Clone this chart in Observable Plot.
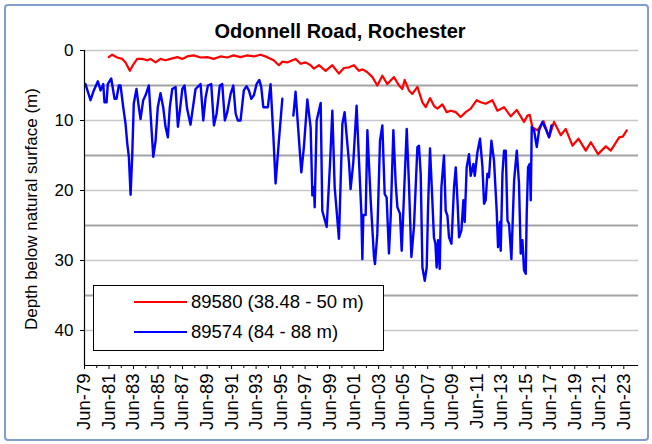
<!DOCTYPE html>
<html><head><meta charset="utf-8">
<script src="https://cdn.jsdelivr.net/npm/d3@7"></script>
<script src="https://cdn.jsdelivr.net/npm/@observablehq/plot@0.6"></script>
<style>
body{margin:0;background:#fff;font-family:Arial,"Liberation Sans",sans-serif;}
#wrap{position:relative;width:652px;height:444px;overflow:hidden;background:#fff;}
#border{position:absolute;left:4px;top:4px;width:641px;height:433px;border:2px solid #7f9fcf;border-radius:4px;pointer-events:none;}
#title{position:absolute;left:0;width:680px;top:19px;text-align:center;font-weight:bold;font-size:20px;line-height:24px;color:#000;}
#ylabel{position:absolute;left:-118px;width:300px;top:198px;line-height:22px;text-align:center;font-size:17px;transform:rotate(-90deg);transform-origin:50% 50%;color:#000;}
#plot{position:absolute;left:0;top:0;}
#legend{position:absolute;left:93px;top:285px;width:289px;height:64px;border:1px solid #000;background:#fff;}
.item{position:absolute;left:0;height:22px;line-height:22px;font-size:18.5px;color:#000;white-space:nowrap;}
.sw{position:absolute;left:40px;width:53px;top:10px;height:2px;}
.lt{position:absolute;left:97px;top:0;}
</style></head>
<body>
<div id="wrap">
  <div id="plot"></div>
  <div id="title">Odonnell Road, Rochester</div>
  <div id="ylabel">Depth below natural surface (m)</div>
  <div id="legend"></div>
  <div id="border"></div>
</div>
<script>
// ---- data ----
const seriesNames = ["89580 (38.48 - 50 m)", "89574 (84 - 88 m)"];
const seriesColors = ["#ff0000", "#0000ff"];

const redYear = [1981.43,1981.71,1982.12,1982.53,1982.80,1983.15,1983.47,1983.75,1984.16,1984.57,
1984.84,1985.25,1985.65,1986.06,1986.47,1987.02,1987.43,1987.83,1988.35,1988.92,
1989.47,1989.98,1990.55,1991.10,1991.61,1992.18,1992.73,1993.27,1993.82,1994.36,
1994.88,1995.31,1995.59,1996.00,1996.27,1996.67,1997.08,1997.49,1997.90,1998.17,
1998.58,1999.12,1999.67,2000.21,2000.62,2001.03,2001.43,2001.84,2002.14,2002.53,
2002.94,2003.34,2003.75,2004.16,2004.43,2004.70,2005.11,2005.38,2005.57,2005.92,
2006.20,2006.61,2007.02,2007.29,2007.64,2007.96,2008.24,2008.65,2009.00,2009.33,
2009.74,2010.14,2010.55,2010.96,2011.45,2011.78,2012.18,2012.73,2013.14,2013.68,
2014.23,2014.72,2015.31,2015.59,2015.78,2016.00,2016.41,2016.90,2017.35,2017.76,
2018.31,2018.71,2019.26,2019.75,2020.35,2020.76,2021.35,2021.98,2022.39,2023.07,
2023.37,2023.69];
const redDepth = [0.95,0.6,1.0,1.2,1.7,2.9,1.9,1.2,1.2,1.4,
1.2,1.7,1.2,1.4,1.2,0.95,1.2,0.85,0.7,1.0,
0.95,1.2,0.85,1.0,0.7,0.95,0.7,0.85,0.6,0.95,
1.4,2.1,1.6,1.7,1.5,1.2,1.9,1.7,2.1,2.6,
2.1,2.9,2.1,3.3,2.5,2.4,2.1,2.9,2.7,3.1,
3.8,5.0,3.6,4.8,4.3,3.8,5.0,5.5,4.2,5.7,
6.2,5.2,7.4,8.1,6.8,7.9,8.3,7.7,8.8,8.6,
8.8,9.5,8.8,8.3,7.1,7.4,7.6,7.1,8.6,8.1,
9.4,8.5,10.2,9.3,9.2,11.0,11.4,10.1,12.4,10.2,
12.1,11.2,13.6,12.6,14.3,13.1,14.8,13.7,14.3,12.4,
12.3,11.4];

const blueYear = [1979.53,1979.94,1980.21,1980.54,1980.76,1980.98,1981.08,1981.25,1981.35,1981.63,
1981.90,1982.06,1982.25,1982.39,1982.61,1982.80,1982.94,1983.07,1983.21,1983.34,
1983.47,1983.69,1983.88,1984.02,1984.24,1984.43,1984.70,1984.84,1985.06,1985.25,
1985.43,1985.65,1985.87,1986.06,1986.25,1986.41,1986.61,1986.88,1987.07,1987.23,
1987.43,1987.61,1987.82,1988.10,1988.51,1988.92,1989.14,1989.33,1989.52,1989.79,
1990.01,1990.23,1990.49,1990.69,1990.90,1991.10,1991.37,1991.59,1991.78,1991.96,
1992.18,1992.45,1992.67,1992.86,1993.06,1993.27,1993.49,1993.71,1993.87,1994.04,
1994.41,1994.63,1994.85,1995.04,1995.31,1995.59,1996.00,
1996.49,1996.67,1997.14,1997.35,1997.63,1997.90,1998.04,1998.17,1998.23,1998.39,
1998.72,1998.85,1999.21,1999.48,1999.67,1999.86,2000.21,2000.49,2000.67,2001.03,
2001.16,2001.38,2001.65,2001.84,2002.04,2002.12,2002.20,2002.39,2002.53,2002.80,
2003.07,2003.15,2003.34,2003.56,2003.75,2003.94,2004.10,2004.29,2004.43,2004.65,
2004.84,2004.98,2005.19,2005.33,2005.52,2005.74,2005.92,2006.12,2006.33,2006.61,
2006.74,2006.88,2007.02,2007.21,2007.37,2007.48,2007.64,2007.83,2007.96,2008.08,
2008.18,2008.29,2008.43,2008.57,2008.78,2008.92,2009.06,2009.19,2009.39,2009.60,
2009.74,2009.88,2010.01,2010.20,2010.36,2010.47,2010.63,2010.82,2010.96,2011.18,
2011.29,2011.51,2011.72,2011.92,2012.05,2012.18,2012.32,2012.45,2012.65,2012.86,
2013.08,2013.19,2013.35,2013.41,2013.55,2013.68,2013.82,2013.96,2014.09,2014.28,
2014.50,2014.72,2014.90,2015.04,2015.18,2015.31,2015.45,2015.53,2015.64,2015.78,
2015.86,2015.94,2016.13,2016.35,2016.54,2016.81,2017.08,2017.35,2017.55];
const blueDepth = [4.8,7.1,5.7,4.4,5.7,4.8,7.4,7.4,4.8,4.0,
6.9,6.9,5.0,5.0,8.1,10.5,13.3,15.2,20.6,15.2,
7.6,5.5,8.1,9.8,7.1,6.4,5.0,9.0,15.2,12.9,
8.1,6.1,8.1,10.9,12.4,8.1,5.5,5.2,10.9,8.6,
5.5,5.0,8.3,10.6,5.5,4.8,10.0,6.7,5.0,4.8,
10.7,9.0,5.0,4.8,10.0,8.8,6.2,5.0,9.0,10.0,
10.0,5.7,5.1,5.7,6.9,6.4,4.8,4.2,5.2,8.1,
8.1,4.8,11.9,19.0,12.9,6.9,null,
9.3,5.9,17.4,13.8,7.0,11.0,20.7,19.5,22.4,10.0,
7.5,22.9,25.2,16.2,8.6,19.5,26.9,10.5,8.8,16.0,
19.8,16.0,7.9,15.5,23.3,29.8,23.5,23.5,11.4,21.4,
29.5,30.5,26.2,12.9,10.7,20.5,21.0,29.0,23.8,11.4,
19.0,22.4,23.3,28.6,20.5,11.2,19.0,29.5,25.2,13.8,
13.6,17.6,31.0,32.9,31.0,22.4,14.0,21.4,26.7,27.6,
31.0,27.1,31.2,19.5,15.0,22.9,23.6,26.7,27.6,19.5,
16.7,21.4,26.7,25.7,21.4,24.5,16.7,14.8,17.9,16.2,
17.9,14.5,12.6,16.7,21.9,21.4,17.6,18.1,12.9,15.7,
22.9,28.1,24.5,28.6,17.6,14.3,14.3,24.3,24.8,29.8,
18.6,14.3,19.0,29.0,27.1,31.4,31.9,23.3,16.7,16.2,
21.4,10.9,11.4,13.8,11.4,10.2,11.2,12.4,10.7];

const yTickValues = [0, 10, 20, 30, 40];
const gridDark = [5, 15, 25, 35];
const gridLight = [0, 10, 20, 30, 40];
const labelYears = d3.range(1979, 2024, 2);   // Jun-79 ... Jun-23
const minorYears = d3.range(1980, 2023, 2);
const JUNE = 0.45;

// ---- build tables ----
const red = redYear.map((x, i) => ({year: x, depth: redDepth[i]}));
const blue = blueYear.map((x, i) => ({year: x, depth: blueDepth[i]}));
const majorTicks = labelYears.map(y => y + JUNE);
const minorTicks = minorYears.map(y => y + JUNE);
const fmt = d => "Jun-" + String(Math.floor(d + 1e-6) % 100).padStart(2, "0");

const chart = Plot.plot({
  width: 652, height: 444,
  marginLeft: 84, marginRight: 14, marginTop: 50, marginBottom: 79,
  x: {domain: [1979 + JUNE, 2024.65]},
  y: {domain: [0, 45], reverse: true},
  style: {fontFamily: "Arial, 'Liberation Sans', sans-serif", background: "transparent", color: "#000"},
  marks: [
    Plot.ruleY(gridLight, {stroke: "#c8c8c8", strokeWidth: 1.3}),
    Plot.ruleY(gridDark, {stroke: "#a3a3a3", strokeWidth: 2}),
    Plot.line(red, {x: "year", y: "depth", stroke: seriesColors[0], strokeWidth: 2.2}),
    Plot.line(blue, {x: "year", y: "depth", stroke: seriesColors[1], strokeWidth: 2.4}),
    Plot.ruleX([1979 + JUNE], {stroke: "#000", strokeWidth: 1.2}),
    Plot.ruleY([45], {stroke: "#000", strokeWidth: 1.2}),
    Plot.axisY(yTickValues, {tickSize: 4, tickPadding: 7, fontSize: 17, label: null}),
    Plot.axisX(majorTicks, {tickSize: 4, insetTop: -4, tickPadding: 4, tickRotate: -90, tickFormat: fmt, fontSize: 18.5, label: null}),
    Plot.axisX(minorTicks, {tickSize: 3, tickFormat: () => "", label: null})
  ]
});
document.getElementById("plot").appendChild(chart);

// legend
const lg = document.getElementById("legend");
seriesNames.forEach((name, i) => {
  const it = document.createElement("div");
  it.className = "item";
  it.style.top = (5 + i * 30) + "px";
  it.innerHTML = `<div class="sw" style="background:${seriesColors[i]}"></div><div class="lt">${name}</div>`;
  lg.appendChild(it);
});
</script>
</body></html>
